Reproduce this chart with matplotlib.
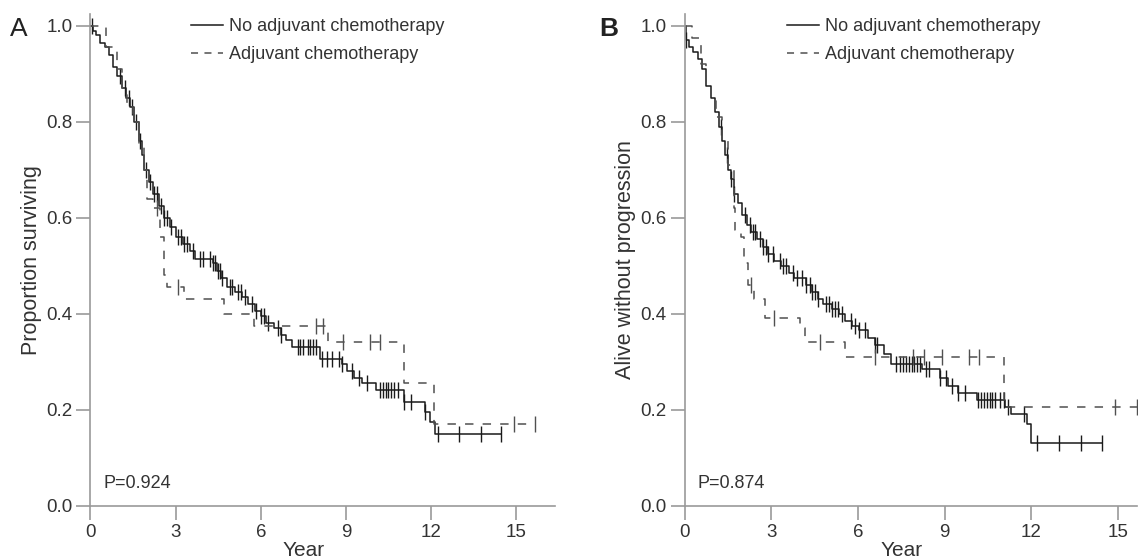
import numpy as np
import matplotlib
matplotlib.use("Agg")
import matplotlib.pyplot as plt
from matplotlib import transforms

plt.rcParams['font.family'] = ['Liberation Sans', 'DejaVu Sans']

# Panel A - overall survival
a_no_t = [0.1, 0.2, 0.35, 0.5, 0.65, 0.8, 0.95, 1.1, 1.25, 1.4, 1.55, 1.7, 1.8, 1.9,
          2.05, 2.2, 2.4, 2.6, 2.8, 3.0, 3.25, 3.5, 3.7, 4.3, 4.45, 4.6, 4.8, 5.1,
          5.35, 5.55, 5.8, 6.0, 6.2, 6.45, 6.7, 6.9, 7.1, 8.1, 8.85, 9.05, 9.3,
          9.55, 10.05, 11.05, 11.8, 11.95, 12.15]
a_no_s = [0.99, 0.98, 0.965, 0.955, 0.94, 0.915, 0.895, 0.87, 0.85, 0.83, 0.80, 0.76,
          0.73, 0.70, 0.675, 0.65, 0.625, 0.60, 0.58, 0.56, 0.545, 0.53, 0.515, 0.505,
          0.49, 0.475, 0.455, 0.445, 0.435, 0.42, 0.405, 0.395, 0.38, 0.37, 0.355,
          0.345, 0.33, 0.305, 0.295, 0.28, 0.265, 0.255, 0.24, 0.215, 0.195, 0.175, 0.15]
a_no_cens = [0.05, 1.05, 1.2, 1.35, 1.45, 1.6, 1.75, 1.95, 2.1, 2.25, 2.35, 2.5, 2.6,
             2.7, 2.85, 3.1, 3.2, 3.3, 3.4, 3.6, 3.85, 3.95, 4.2, 4.3, 4.4, 4.5, 4.55,
             4.65, 4.9, 5.0, 5.2, 5.3, 5.45, 5.7, 5.85, 6.0, 6.1, 6.25, 6.6, 6.7, 7.3,
             7.4, 7.5, 7.65, 7.75, 7.85, 7.95, 8.15, 8.35, 8.5, 8.75, 8.85, 9.2, 9.45,
             9.75, 10.2, 10.3, 10.4, 10.5, 10.6, 10.7, 10.85, 11.05, 11.3, 11.8, 12.25,
             13.0, 13.75, 14.45]

a_adj_t = [0.55, 0.95, 1.1, 1.3, 1.5, 1.7, 1.9, 2.0, 2.2, 2.45, 2.6, 2.7, 3.3, 4.72,
           5.75, 8.38, 11.05, 12.1]
a_adj_s = [0.955, 0.91, 0.87, 0.84, 0.80, 0.75, 0.70, 0.64, 0.62, 0.56, 0.48, 0.455,
           0.43, 0.40, 0.375, 0.34, 0.255, 0.17]
a_adj_cens = [2.35, 3.1, 7.95, 8.2, 8.9, 9.85, 10.2, 14.93, 15.68]

# Panel B - progression-free survival
b_no_t = [0.05, 0.15, 0.3, 0.45, 0.6, 0.75, 0.9, 1.05, 1.2, 1.3, 1.4, 1.5, 1.6, 1.7,
          1.85, 2.0, 2.15, 2.3, 2.5, 2.7, 2.9, 3.1, 3.35, 3.6, 3.8, 4.2, 4.4, 4.6,
          4.8, 5.1, 5.35, 5.55, 5.8, 6.05, 6.35, 6.6, 6.9, 7.15, 8.2, 8.85, 9.1,
          9.45, 10.1, 11.1, 11.3, 11.85, 12.0]
b_no_s = [0.97, 0.955, 0.945, 0.93, 0.91, 0.875, 0.85, 0.82, 0.79, 0.76, 0.73, 0.70,
          0.68, 0.65, 0.63, 0.605, 0.585, 0.57, 0.555, 0.54, 0.525, 0.51, 0.50, 0.485,
          0.475, 0.46, 0.445, 0.43, 0.42, 0.41, 0.40, 0.385, 0.375, 0.365, 0.35,
          0.335, 0.315, 0.295, 0.285, 0.265, 0.25, 0.235, 0.22, 0.205, 0.19, 0.17, 0.13]
b_no_cens = [0.05, 1.25, 1.45, 1.6, 1.7, 2.1, 2.25, 2.35, 2.45, 2.6, 2.7, 2.8, 2.9,
             3.05, 3.3, 3.4, 3.5, 3.75, 3.9, 4.05, 4.2, 4.35, 4.4, 4.5, 4.6, 4.9, 5.0,
             5.1, 5.2, 5.3, 5.45, 5.75, 5.9, 6.05, 6.25, 6.6, 6.65, 7.3, 7.45, 7.55,
             7.65, 7.75, 7.85, 7.95, 8.05, 8.15, 8.35, 8.45, 8.85, 9.05, 9.25, 9.45,
             9.7, 10.15, 10.25, 10.35, 10.45, 10.55, 10.65, 10.75, 10.9, 11.05, 11.2,
             11.75, 12.2, 12.96, 13.72, 14.45]

b_adj_t = [0.25, 0.57, 0.75, 0.9, 1.1, 1.3, 1.5, 1.7, 1.75, 1.96, 2.06, 2.2, 2.4, 2.78,
           4.0, 4.17, 5.56, 11.06]
b_adj_s = [0.975, 0.92, 0.88, 0.85, 0.81, 0.76, 0.71, 0.62, 0.575, 0.56, 0.505, 0.46,
           0.43, 0.39, 0.37, 0.34, 0.31, 0.205]
b_adj_cens = [2.3, 3.1, 4.7, 6.6, 7.9, 8.28, 8.9, 9.83, 10.2, 14.9, 15.65]

x_ticks = [0, 3, 6, 9, 12, 15]
y_ticks = [0.0, 0.2, 0.4, 0.6, 0.8, 1.0]

SOLID = "#1a1a1a"
DASHED = "#505050"
AXIS = "#9a9a9a"
TEXT = "#333333"
FS = 13


def km_curve(ax, t, s, cens, color, ls, label):
    """Draw a Kaplan-Meier step curve with censor ticks."""
    t = np.asarray(t)
    s = np.asarray(s)
    end = max(cens[-1], t[-1])
    xs = np.concatenate([[0], t, [end]])
    ys = np.concatenate([[1.0], s, [s[-1]]])
    kw = dict(color=color, lw=1.1)
    if ls == "--":
        kw["dashes"] = (5.5, 6)
    ax.step(xs, ys, where="post", label=label, **kw)
    idx = np.searchsorted(t, cens, side="right")
    cy = np.where(idx > 0, s[np.maximum(idx - 1, 0)], 1.0)
    ax.plot(cens, cy, ls="none", marker="|", ms=11, mew=1.0, color=color)


def setup(ax, xmax, ylabel, ptext, letter, letter_x, letter_weight):
    ax.set_xlim(0, xmax)
    ax.set_ylim(0, 1.024)
    for sp in ["top", "right"]:
        ax.spines[sp].set_visible(False)
    for sp in ["left", "bottom"]:
        ax.spines[sp].set_color(AXIS)
        ax.spines[sp].set_linewidth(1.2)
    ax.set_xticks(x_ticks)
    ax.set_yticks(y_ticks)
    ax.set_yticklabels([f"{v:.1f}" for v in y_ticks])
    ax.tick_params(direction="out", length=10, width=1.2, color=AXIS,
                   labelsize=FS + 0.5, labelcolor=TEXT, pad=3)
    ax.set_ylabel(ylabel, fontsize=15.5, color=TEXT, labelpad=3)
    ax.text(0.45, 0.045, ptext, fontsize=FS, color=TEXT, va="center", ha="left")
    tr = transforms.blended_transform_factory(ax.transData, ax.figure.transFigure)
    ax.text(7.5, 0.0, "Year", transform=tr, fontsize=15, color=TEXT,
            ha="center", va="bottom")
    ax.figure.text(letter_x, 0.948, letter, fontsize=19, color="#222222",
                   ha="left", va="center", fontweight=letter_weight)
    leg = ax.legend(loc="upper left", bbox_to_anchor=(3.55, 1.016),
                    bbox_transform=ax.transData, frameon=False, fontsize=FS,
                    handlelength=1.75, handletextpad=0.35, labelspacing=0.62,
                    borderpad=0, borderaxespad=0)
    for line in leg.get_lines():
        if line.get_linestyle() != "-":
            line.set_dashes((4.6, 4.2))
    for txt in leg.get_texts():
        txt.set_color(TEXT)


fig = plt.figure(figsize=(11.38, 5.6), dpi=100)

ax1 = fig.add_axes([0.0795, 0.0973, 0.408, 0.877])
km_curve(ax1, a_no_t, a_no_s, a_no_cens, SOLID, "-", "No adjuvant chemotherapy")
km_curve(ax1, a_adj_t, a_adj_s, a_adj_cens, DASHED, "--", "Adjuvant chemotherapy")
setup(ax1, 16.36, "Proportion surviving", "P=0.924", "A", 0.009, "normal")

ax2 = fig.add_axes([0.6016, 0.0973, 0.3975, 0.877])
km_curve(ax2, b_no_t, b_no_s, b_no_cens, SOLID, "-", "No adjuvant chemotherapy")
km_curve(ax2, b_adj_t, b_adj_s, b_adj_cens, DASHED, "--", "Adjuvant chemotherapy")
setup(ax2, 15.65, "Alive without progression", "P=0.874", "B", 0.527, "bold")

fig.savefig("out.png", dpi=100)
